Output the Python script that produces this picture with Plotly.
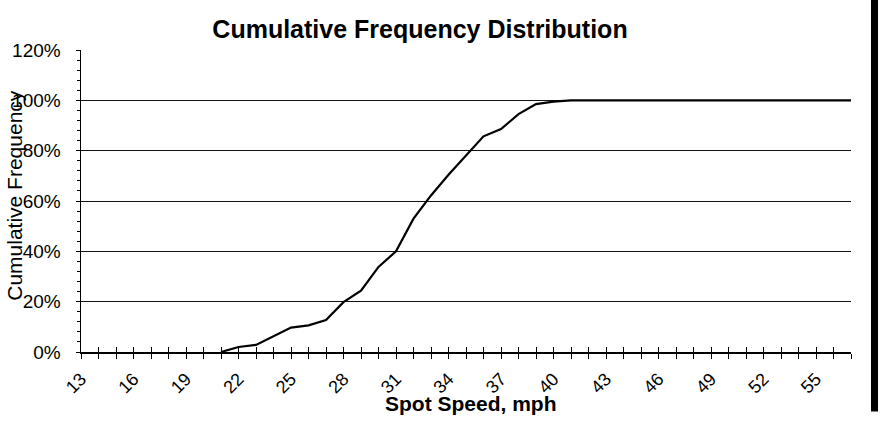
import plotly.graph_objects as go

# ---- data ----
speeds = [21, 22, 23, 24, 25, 26, 27, 28, 29, 30, 31, 32, 33, 34, 35, 36, 37, 38, 39,
          40, 41, 42, 43, 44, 45, 46, 47, 48, 49, 50, 51, 52, 53, 54, 55, 56, 57]
cum_freq = [0.000, 0.020, 0.028, 0.064, 0.097, 0.106, 0.127, 0.198, 0.244, 0.338,
            0.400, 0.530, 0.622, 0.704, 0.780, 0.857, 0.886, 0.945, 0.985, 0.995,
            1.000, 1.000, 1.000, 1.000, 1.000, 1.000, 1.000, 1.000, 1.000, 1.000,
            1.000, 1.000, 1.000, 1.000, 1.000, 1.000, 1.000]
x_tick_labels = ["13", "16", "19", "22", "25", "28", "31", "34", "37", "40",
                 "43", "46", "49", "52", "55"]
x_min, x_max = 13, 57
y_tick_vals = [0, 0.2, 0.4, 0.6, 0.8, 1.0, 1.2]
grid_vals = [0.2, 0.4, 0.6, 0.8, 1.0]

FONT = "Liberation Sans, Arial, sans-serif"
W, H = 882, 423
# plot area in page pixels: x 81..851, y 50..352.5
L, T = 81, 50
R = W - 851
B = H - 352.5
PW, PH = W - L - R, H - T - B


def px_x(px):
    return (px - L) / PW


def px_y(py):
    return (H - B - py) / PH


fig = go.Figure()
fig.add_trace(go.Scatter(
    x=speeds, y=cum_freq, mode="lines",
    line=dict(color="black", width=2.2),
    showlegend=False, hoverinfo="skip",
))
# empty traces so the overlay axes are drawn
fig.add_trace(go.Scatter(x=[], y=[], xaxis="x2", yaxis="y", showlegend=False, hoverinfo="skip"))
fig.add_trace(go.Scatter(x=[], y=[], xaxis="x", yaxis="y2", showlegend=False, hoverinfo="skip"))

tick_vals_x = [int(t) for t in x_tick_labels]

fig.update_layout(
    width=W, height=H,
    margin=dict(l=L, r=R, t=T, b=B, pad=0),
    paper_bgcolor="white", plot_bgcolor="white",
    font=dict(family=FONT, color="black"),
    hovermode=False,
    title=dict(
        text="<b>Cumulative Frequency Distribution</b>",
        font=dict(family=FONT, size=25, color="black"),
        x=420 / W, xanchor="center", xref="container",
        y=1 - 29 / H, yanchor="middle", yref="container",
    ),
    xaxis=dict(
        range=[x_min, x_max], tickmode="array",
        tickvals=tick_vals_x, ticktext=x_tick_labels,
        tickangle=-45, tickfont=dict(family=FONT, size=18, color="black"),
        ticklabelstandoff=3,
        ticks="outside", ticklen=5, tickwidth=1, tickcolor="black",
        minor=dict(dtick=1, tick0=x_min, ticks="outside", ticklen=5,
                   tickwidth=1, tickcolor="black", showgrid=False),
        showline=True, linecolor="black", linewidth=1.5,
        showgrid=False, zeroline=False,
    ),
    xaxis2=dict(
        overlaying="x", anchor="y", side="bottom",
        range=[x_min, x_max], tickmode="array", tickvals=tick_vals_x,
        showticklabels=False,
        ticks="inside", ticklen=5, tickwidth=1, tickcolor="black",
        minor=dict(dtick=1, tick0=x_min, ticks="inside", ticklen=5,
                   tickwidth=1, tickcolor="black", showgrid=False),
        showline=False, showgrid=False, zeroline=False,
    ),
    yaxis=dict(
        range=[0, 1.2], tickmode="array", tickvals=y_tick_vals,
        tickformat=".0%", tickfont=dict(family=FONT, size=19, color="black"),
        ticks="outside", ticklen=4, tickwidth=1, tickcolor="black",
        ticklabelstandoff=11,
        minor=dict(dtick=0.04, tick0=0, ticks="outside", ticklen=3,
                   tickwidth=1, tickcolor="black", showgrid=False),
        showline=True, linecolor="black", linewidth=1.5,
        showgrid=False, zeroline=False,
    ),
    yaxis2=dict(
        overlaying="y", anchor="x", side="left",
        range=[0, 1.2], tickmode="array", tickvals=grid_vals,
        showticklabels=False, ticks="",
        showgrid=True, gridcolor="#111111", gridwidth=1,
        showline=False, zeroline=False,
    ),
    annotations=[
        dict(text="<b>Spot Speed, mph</b>", xref="paper", yref="paper",
             x=px_x(471), y=px_y(404), xanchor="center", yanchor="middle",
             showarrow=False, font=dict(family=FONT, size=21, color="black")),
        dict(text="Cumulative Frequency", xref="paper", yref="paper",
             x=px_x(15), y=px_y(196), xanchor="center", yanchor="middle",
             textangle=-90, showarrow=False,
             font=dict(family=FONT, size=21, color="black")),
    ],
    shapes=[
        dict(type="rect", xref="paper", yref="paper",
             x0=px_x(871), x1=px_x(878), y0=px_y(412), y1=px_y(0),
             fillcolor="black", line=dict(width=0), layer="above"),
    ],
)

fig.write_html(
    "out.html",
    config={"displayModeBar": False, "staticPlot": True},
    post_script="document.body.style.margin='0';document.body.style.overflow='hidden';",
)
